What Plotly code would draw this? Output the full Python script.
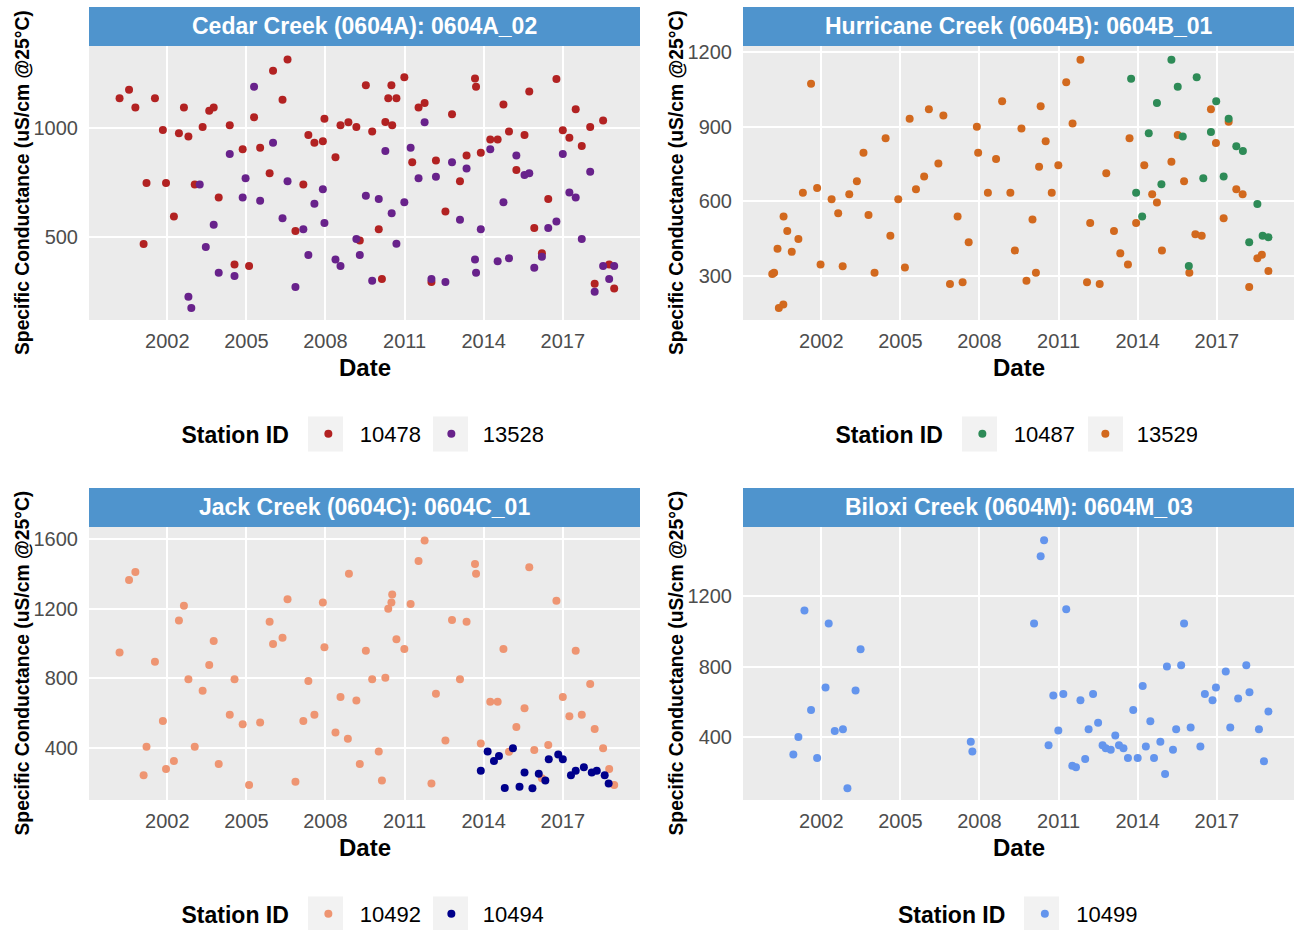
import pandas as pd
import plotly.graph_objects as go

# ---------------- data (decimal years, specific conductance uS/cm) ----------------
cedar_10478_year = [
    2000.19, 2000.55, 2000.79, 2001.10, 2001.21, 2001.53, 2001.83, 2001.95, 2002.25, 2002.44,
    2002.63, 2002.80, 2003.04, 2003.34, 2003.59, 2003.76, 2003.95, 2004.37, 2004.55, 2004.86,
    2005.10, 2005.29, 2005.52, 2005.88, 2006.01, 2006.37, 2006.56, 2006.86, 2007.16, 2007.35,
    2007.58, 2007.90, 2007.96, 2008.38, 2008.57, 2008.87, 2009.17, 2009.30, 2009.53, 2009.77,
    2010.02, 2010.14, 2010.27, 2010.38, 2010.50, 2010.53, 2010.69, 2010.99, 2011.29, 2011.53,
    2011.76, 2012.02, 2012.19, 2012.55, 2012.80, 2013.10, 2013.35, 2013.67, 2013.71, 2013.89,
    2014.25, 2014.53, 2014.75, 2014.96, 2015.24, 2015.55, 2015.73, 2015.92, 2016.21, 2016.45,
    2016.76, 2017.00, 2017.25, 2017.49, 2017.72, 2018.04, 2018.21, 2018.53, 2018.76, 2018.95]
cedar_10478_sc = [
    1138, 1176, 1095, 469, 749, 1138, 992, 749, 595, 977,
    1095, 962, 742, 1006, 1080, 1095, 683, 1014, 375, 904,
    368, 1050, 911, 794, 1263, 1131, 1315, 529, 742, 969,
    933, 940, 1043, 867, 1014, 1028, 1006, 485, 1197, 985,
    537, 309, 1029, 1138, 1197, 1014, 1138, 1234, 844, 1095,
    1116, 295, 852, 618, 1064, 757, 875, 1228, 1190, 888,
    948, 948, 1109, 985, 809, 969, 1168, 543, 427, 676,
    1226, 991, 956, 1087, 919, 1006, 287, 1035, 375, 265]

cedar_13528_year = [
    2002.80, 2002.91, 2003.23, 2003.46, 2003.76, 2003.95, 2004.37, 2004.55, 2004.97, 2004.86,
    2005.29, 2005.52, 2006.01, 2006.37, 2006.56, 2006.86, 2007.16, 2007.35, 2007.58, 2007.90,
    2007.96, 2008.38, 2008.57, 2009.17, 2009.30, 2009.53, 2009.77, 2010.02, 2010.27, 2010.51,
    2010.69, 2010.99, 2011.23, 2011.53, 2011.76, 2012.02, 2012.19, 2012.55, 2012.80, 2013.10,
    2013.35, 2013.67, 2013.71, 2013.89, 2014.25, 2014.53, 2014.75, 2014.96, 2015.24, 2015.55,
    2015.73, 2015.92, 2016.21, 2016.45, 2016.76, 2017.00, 2017.25, 2017.49, 2017.72, 2018.04,
    2018.21, 2018.53, 2018.76, 2018.95]
cedar_13528_sc = [
    228, 176, 742, 456, 558, 338, 882, 323, 771, 683,
    1190, 668, 933, 587, 757, 272, 537, 419, 654, 720,
    566, 398, 368, 492, 419, 691, 301, 676, 896, 610,
    471, 661, 911, 771, 1028, 309, 778, 295, 844, 581,
    815, 398, 338, 537, 904, 390, 661, 404, 875, 786,
    794, 361, 411, 543, 573, 882, 705, 683, 492, 801,
    251, 368, 309, 368]

hurricane_10487_year = [
    2013.75, 2013.94, 2014.17, 2014.42, 2014.73, 2014.90, 2015.28, 2015.52, 2015.71, 2015.94,
    2016.24, 2016.49, 2016.78, 2016.98, 2017.26, 2017.45, 2017.74, 2017.99, 2018.23, 2018.54,
    2018.74, 2018.96]
hurricane_10487_sc = [
    1093, 635, 539, 874, 996, 669, 1170, 1061, 861, 340,
    1099, 693, 879, 1003, 700, 932, 822, 803, 436, 590,
    462, 456]

hurricane_13529_year = [
    2000.14, 2000.21, 2000.34, 2000.39, 2000.56, 2000.57, 2000.71, 2000.88, 2001.13, 2001.30,
    2001.61, 2001.84, 2001.97, 2002.39, 2002.64, 2002.81, 2003.06, 2003.35, 2003.60, 2003.79,
    2004.02, 2004.44, 2004.62, 2004.92, 2005.17, 2005.35, 2005.59, 2005.90, 2006.08, 2006.44,
    2006.63, 2006.88, 2007.17, 2007.36, 2007.59, 2007.90, 2007.95, 2008.32, 2008.63, 2008.86,
    2009.17, 2009.59, 2009.34, 2009.78, 2010.01, 2010.14, 2010.26, 2010.32, 2010.51, 2010.74,
    2010.99, 2011.29, 2011.53, 2011.83, 2012.08, 2012.20, 2012.56, 2012.81, 2013.10, 2013.34,
    2013.63, 2013.69, 2013.94, 2014.25, 2014.55, 2014.73, 2014.92, 2015.28, 2015.52, 2015.76,
    2015.96, 2016.19, 2016.43, 2016.78, 2016.97, 2017.26, 2017.45, 2017.74, 2017.98, 2018.23,
    2018.54, 2018.71, 2018.96]
hurricane_13529_sc = [
    308, 313, 410, 171, 185, 539, 481, 397, 449, 635,
    1073, 654, 346, 609, 552, 339, 629, 681, 796, 545,
    313, 854, 462, 609, 334, 932, 649, 700, 971, 752,
    945, 268, 539, 275, 436, 900, 796, 635, 771, 1003,
    635, 893, 403, 281, 527, 313, 739, 983, 842, 635,
    745, 1079, 913, 1170, 275, 513, 268, 713, 481, 391,
    346, 854, 513, 745, 629, 596, 403, 759, 867, 681,
    313, 468, 462, 971, 835, 532, 920, 649, 629, 256,
    371, 385, 320]

jack_10492_year = [
    2000.19, 2000.55, 2000.79, 2001.10, 2001.21, 2001.53, 2001.83, 2001.95, 2002.25, 2002.44,
    2002.63, 2002.80, 2003.04, 2003.34, 2003.59, 2003.76, 2003.95, 2004.37, 2004.55, 2004.86,
    2005.10, 2005.52, 2005.88, 2006.01, 2006.37, 2006.56, 2006.86, 2007.16, 2007.35, 2007.58,
    2007.90, 2007.96, 2008.38, 2008.57, 2008.85, 2008.89, 2009.17, 2009.30, 2009.53, 2009.77,
    2010.02, 2010.14, 2010.27, 2010.38, 2010.50, 2010.53, 2010.69, 2010.99, 2011.23, 2011.53,
    2011.76, 2012.02, 2012.19, 2012.55, 2012.80, 2013.10, 2013.35, 2013.67, 2013.71, 2013.89,
    2014.25, 2014.53, 2014.75, 2014.96, 2015.24, 2015.55, 2015.73, 2015.92, 2016.21, 2016.45,
    2016.76, 2017.00, 2017.25, 2017.49, 2017.72, 2018.04, 2018.21, 2018.53, 2018.76, 2018.95]
jack_10492_sc = [
    949, 1363, 1409, 245, 409, 896, 556, 281, 327, 1132,
    1216, 795, 409, 730, 877, 1014, 310, 592, 795, 537,
    190, 547, 1125, 997, 1033, 1253, 209, 556, 785, 592,
    1235, 978, 491, 694, 455, 1400, 674, 310, 959, 795,
    382, 216, 804, 1199, 1235, 1281, 1024, 968, 1226, 1472,
    1590, 199, 713, 445, 1134, 795, 1125, 1455, 1400, 428,
    667, 667, 968, 380, 522, 629, 1436, 390, 228, 419,
    1245, 694, 583, 959, 592, 768, 510, 400, 281, 190]

jack_10494_year = [
    2013.89, 2014.15, 2014.39, 2014.58, 2014.80, 2015.11, 2015.36, 2015.55, 2015.85, 2016.09,
    2016.34, 2016.47, 2016.83, 2017.00, 2017.31, 2017.49, 2017.80, 2018.10, 2018.29, 2018.59,
    2018.74]
jack_10494_sc = [
    272, 382, 327, 356, 173, 400, 180, 262, 171, 255,
    216, 337, 365, 337, 245, 272, 291, 262, 272, 245,
    199]

biloxi_10499_year = [
    2000.94, 2001.13, 2001.36, 2001.61, 2001.84, 2002.16, 2002.28, 2002.51, 2002.82, 2002.99,
    2003.30, 2003.49, 2007.67, 2007.73, 2010.07, 2010.32, 2010.45, 2010.62, 2010.80, 2010.99,
    2011.18, 2011.29, 2011.52, 2011.66, 2011.83, 2012.01, 2012.14, 2012.31, 2012.50, 2012.67,
    2012.79, 2012.98, 2013.15, 2013.29, 2013.46, 2013.63, 2013.83, 2014.00, 2014.19, 2014.31,
    2014.48, 2014.62, 2014.86, 2015.04, 2015.11, 2015.34, 2015.46, 2015.65, 2015.76, 2016.01,
    2016.38, 2016.55, 2016.84, 2016.97, 2017.34, 2017.51, 2017.81, 2018.12, 2018.24, 2018.60,
    2018.79, 2018.96]
biloxi_10499_sc = [
    302, 402, 1119, 555, 283, 682, 1045, 436, 446, 111,
    665, 899, 374, 319, 1045, 1427, 1518, 355, 637, 438,
    646, 1126, 238, 230, 610, 276, 446, 646, 482, 355,
    338, 329, 410, 355, 338, 283, 555, 283, 691, 347,
    491, 283, 374, 192, 801, 329, 446, 809, 1045, 455,
    347, 646, 610, 682, 773, 455, 620, 809, 655, 446,
    264, 546]

panel_titles = ["Cedar Creek (0604A): 0604A_02", "Hurricane Creek (0604B): 0604B_01",
                "Jack Creek (0604C): 0604C_01", "Biloxi Creek (0604M): 0604M_03"]
x_tick_years = [2002, 2005, 2008, 2011, 2014, 2017]
y_ticks = [[500, 1000], [300, 600, 900, 1200], [400, 800, 1200, 1600], [400, 800, 1200]]
y_ranges = [[121, 1377], [123, 1225], [104, 1667], [44, 1593]]
x_range_years = [1999.03, 2019.93]

# (panel index, station id, years, values, colour, legend rank)
series = [
    (0, "10478", cedar_10478_year, cedar_10478_sc, "#B22222", 1),
    (0, "13528", cedar_13528_year, cedar_13528_sc, "#68228B", 2),
    (1, "13529", hurricane_13529_year, hurricane_13529_sc, "#D2691E", 2),
    (1, "10487", hurricane_10487_year, hurricane_10487_sc, "#2E8B57", 1),
    (2, "10492", jack_10492_year, jack_10492_sc, "#EE9572", 1),
    (2, "10494", jack_10494_year, jack_10494_sc, "#00008B", 2),
    (3, "10499", biloxi_10499_year, biloxi_10499_sc, "#6495ED", 1),
]


def to_date(y):
    yr = int(y)
    return pd.Timestamp(year=yr, month=1, day=1) + pd.Timedelta(days=(y - yr) * 365.25)


# ---------------- layout geometry (pixels) ----------------
W, H = 1294, 930
FONT = "Liberation Sans, Arial, sans-serif"
panels = [  # x0, x1, strip_top, plot_top, plot_bottom
    (89, 640, 7, 46, 320),
    (743, 1294, 7, 46, 320),
    (89, 640, 488, 527, 800),
    (743, 1294, 488, 527, 800),
]
legend_shift = [-3, -3, -3, -2]


def fx(x):
    return x / W


def fy(y):
    return 1 - y / H


fig = go.Figure()

for (p, sid, yrs, vals, col, rank) in series:
    fig.add_trace(go.Scatter(
        x=[to_date(v) for v in yrs], y=vals, mode="markers", name=sid,
        marker=dict(color=col, size=8, line=dict(width=0)),
        xaxis="x" if p == 0 else f"x{p+1}", yaxis="y" if p == 0 else f"y{p+1}",
        legend="legend" if p == 0 else f"legend{p+1}", legendrank=rank,
        showlegend=True,
    ))

layout = dict(
    width=W, height=H, margin=dict(l=0, r=0, t=0, b=0, autoexpand=False),
    paper_bgcolor="white", plot_bgcolor="#EBEBEB",
    font=dict(family=FONT, color="#000000"),
)

annotations = []
shapes = []
for i, (x0, x1, st, pt, pb) in enumerate(panels):
    sfx = "" if i == 0 else str(i + 1)
    layout["xaxis" + sfx] = dict(
        domain=[fx(x0), fx(x1)], anchor="y" + sfx, type="date",
        range=[to_date(x_range_years[0]), to_date(x_range_years[1])],
        tickvals=[pd.Timestamp(year=t, month=1, day=1) for t in x_tick_years],
        ticktext=[str(t) for t in x_tick_years],
        showgrid=True, gridcolor="white", gridwidth=1.6, zeroline=False, showline=False,
        ticks="", ticklabelstandoff=7,
        tickfont=dict(size=20, color="#4D4D4D", family=FONT),
    )
    layout["yaxis" + sfx] = dict(
        domain=[fy(pb), fy(pt)], anchor="x" + sfx, range=y_ranges[i],
        tickvals=y_ticks[i], showgrid=True, gridcolor="white", gridwidth=1.6,
        zeroline=False, showline=False, ticks="", ticklabelstandoff=10,
        tickfont=dict(size=20, color="#4D4D4D", family=FONT),
    )
    # strip
    shapes.append(dict(type="rect", xref="paper", yref="paper", x0=fx(x0), x1=fx(x1),
                       y0=fy(pt), y1=fy(st), fillcolor="#4F94CD", line=dict(width=0),
                       layer="above"))
    annotations.append(dict(text="<b>" + panel_titles[i] + "</b>", xref="paper", yref="paper",
                            x=fx((x0 + x1) / 2), y=fy((st + pt) / 2), showarrow=False,
                            xanchor="center", yanchor="middle",
                            font=dict(size=23, color="white", family=FONT)))
    # axis titles
    annotations.append(dict(text="<b>Date</b>", xref="paper", yref="paper",
                            x=fx((x0 + x1) / 2), y=fy(pb + 47.5), showarrow=False,
                            xanchor="center", yanchor="middle",
                            font=dict(size=24, color="black", family=FONT)))
    annotations.append(dict(text="<b>Specific Conductance (uS/cm @25°C)</b>", xref="paper",
                            yref="paper", x=fx(x0 - 67), y=fy((pt + pb) / 2), showarrow=False,
                            textangle=-90, xanchor="center", yanchor="middle",
                            font=dict(size=19.3, color="black", family=FONT)))
    # legend
    leg_cy = pb + 114
    layout["legend" if i == 0 else f"legend{i+1}"] = dict(
        orientation="h", x=fx((x0 + x1) / 2 + legend_shift[i]), xanchor="center",
        y=fy(leg_cy), yanchor="middle",
        title=dict(text="<b>Station ID</b>", side="left", font=dict(size=23, color="black", family=FONT)),
        font=dict(size=22, color="black", family=FONT), bgcolor="rgba(0,0,0,0)",
        itemwidth=53, entrywidth=55, entrywidthmode="pixels", traceorder="normal",
    )

# legend key backgrounds (grey squares)
key_centres = [[325.5, 450.5], [979.5, 1105.5], [325.5, 450.5], [1041.5]]
key_cy = [434, 434, 914, 914]
for i, cs in enumerate(key_centres):
    for c in cs:
        shapes.append(dict(type="rect", xref="paper", yref="paper", x0=fx(c - 17.5), x1=fx(c + 17.5),
                           y0=fy(key_cy[i] + 17.5), y1=fy(key_cy[i] - 17.5), fillcolor="#F2F2F2",
                           line=dict(width=0), layer="below"))

layout["annotations"] = annotations
layout["shapes"] = shapes
fig.update_layout(**layout)

fig.write_html("out.html", config={"displayModeBar": False},
               post_script="document.body.style.margin='0px';")
